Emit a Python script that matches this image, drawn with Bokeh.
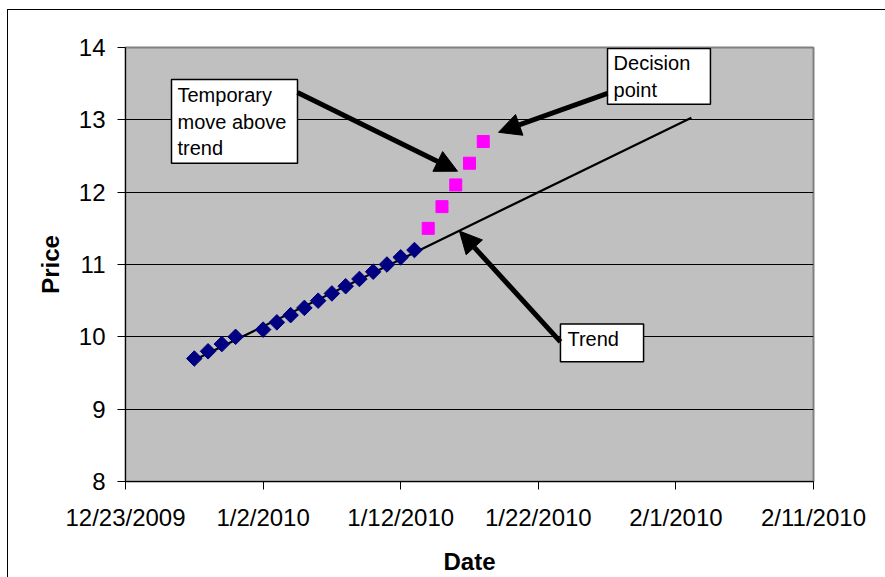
import numpy as np
import pandas as pd
from bokeh.plotting import figure
from bokeh.models import (Range1d, FixedTicker, Arrow, NormalHead)
from bokeh.core.properties import value
from bokeh.embed import file_html
from bokeh.resources import INLINE

# ---- data ----
blue_dates = ["2009-12-28", "2009-12-29", "2009-12-30", "2009-12-31",
              "2010-01-02", "2010-01-03", "2010-01-04", "2010-01-05",
              "2010-01-06", "2010-01-07", "2010-01-08", "2010-01-09",
              "2010-01-10", "2010-01-11", "2010-01-12", "2010-01-13"]
blue_prices = [9.7, 9.8, 9.9, 10.0, 10.1, 10.2, 10.3, 10.4,
               10.5, 10.6, 10.7, 10.8, 10.9, 11.0, 11.1, 11.2]
pink_dates = ["2010-01-14", "2010-01-15", "2010-01-16", "2010-01-17", "2010-01-18"]
pink_prices = [11.5, 11.8, 12.1, 12.4, 12.7]
trend_dates = ["2009-12-28", "2010-02-02 03:00"]
trend_prices = [9.68, 13.03]
x_tick_labels = ["12/23/2009", "1/2/2010", "1/12/2010", "1/22/2010", "2/1/2010", "2/11/2010"]
y_ticks = [8, 9, 10, 11, 12, 13, 14]

FONT = "Liberation Sans"

xt = pd.to_datetime(x_tick_labels, format="%m/%d/%Y")
base = xt[0]


def ms(ts):
    return pd.Timestamp(ts).value / 1e6


def d(days):
    return ms(base + pd.Timedelta(days=days))


x_ticks_ms = [ms(t) for t in xt]

p = figure(width=878, height=567, output_backend="svg", toolbar_location=None,
           x_axis_type="datetime",
           x_range=Range1d(x_ticks_ms[0], x_ticks_ms[-1]),
           y_range=Range1d(8, 14),
           min_border_left=117, min_border_top=37, min_border_right=73,
           min_border_bottom=95)
p.margin = (10, 0, 0, 8)
p.styles = {"outline": "1.5px solid black"}
p.background_fill_color = "#C0C0C0"
p.border_fill_color = "white"
p.outline_line_color = "#808080"
p.outline_line_width = 2

# axes
p.xaxis.ticker = FixedTicker(ticks=x_ticks_ms)
p.xaxis.major_label_overrides = {t: lab for t, lab in zip(x_ticks_ms, x_tick_labels)}
p.yaxis.ticker = FixedTicker(ticks=y_ticks)
for ax in (p.xaxis[0], p.yaxis[0]):
    ax.major_label_text_font = FONT
    ax.major_label_text_font_size = "24px"
    ax.major_label_text_color = "black"
    ax.axis_label_text_font = FONT
    ax.axis_label_text_font_size = "24px"
    ax.axis_label_text_font_style = "bold"
    ax.axis_label_text_color = "black"
    ax.major_tick_out = 8
    ax.major_tick_in = 0
    ax.minor_tick_out = 0
    ax.minor_tick_in = 0
    ax.axis_line_color = "black"
    ax.major_tick_line_color = "black"
p.xaxis.axis_label = "Date"
p.yaxis.axis_label = "Price"
p.xaxis.major_label_standoff = 14
p.xaxis.axis_label_standoff = 14
p.yaxis.major_label_standoff = 12
p.yaxis.axis_label_standoff = 12

p.xgrid.visible = False
p.ygrid.ticker = FixedTicker(ticks=y_ticks)
p.ygrid.grid_line_color = "black"
p.ygrid.grid_line_width = 1

# trend line
p.line([ms(t) for t in trend_dates], trend_prices, line_color="black", line_width=2.2)

# data markers
p.scatter([ms(t) for t in blue_dates], blue_prices, marker="square", angle=np.pi / 4,
          size=11, fill_color="#000080", line_color="#000080")
p.scatter([ms(t) for t in pink_dates], pink_prices, marker="square",
          size=12, fill_color="#FF00FF", line_color="#FF00FF")

# arrows
arrows = [((12.50, 13.379), (24.13, 12.290)),
          ((35.03, 13.366), (27.11, 12.828)),
          ((31.61, 9.931), (24.27, 11.462))]
for (x0, y0), (x1, y1) in arrows:
    p.add_layout(Arrow(end=NormalHead(size=22, fill_color="black", line_color="black"),
                       x_start=d(x0), y_start=y0, x_end=d(x1), y_end=y1,
                       line_width=5, line_color="black"))

# annotation boxes
boxes = [(3.343, 12.50, 13.559, 12.400, 3.779, 13.490, "Temporary\nmove above\ntrend"),
         (35.03, 42.51, 13.986, 13.214, 35.47, 13.931, "Decision\npoint"),
         (31.61, 37.65, 10.179, 9.655, 32.12, 10.124, "Trend")]
for l, r, t, b, tx, ty, txt in boxes:
    p.quad(left=[d(l)], right=[d(r)], top=[t], bottom=[b],
           fill_color="white", line_color="black", line_width=1.5)
    p.text([d(tx)], [ty], text=[txt], text_font=value(FONT), text_font_size="20px",
           text_baseline="top", text_align="left", text_color="black",
           text_line_height=1.2)

open("out.html", "w").write(file_html(p, INLINE))
